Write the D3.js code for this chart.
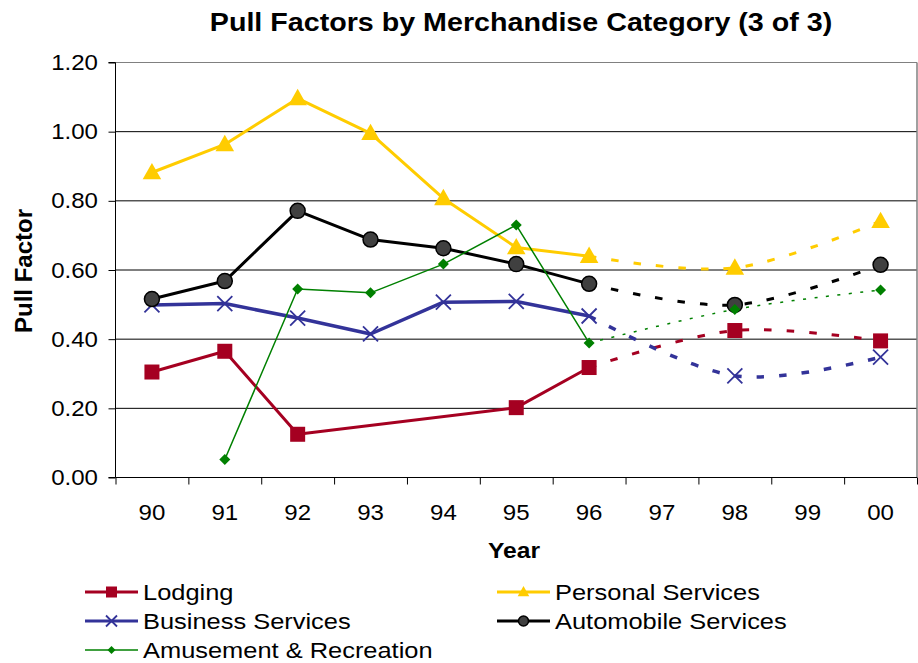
<!DOCTYPE html>
<html><head><meta charset="utf-8">
<script src="https://cdn.jsdelivr.net/npm/d3@7"></script>
<style>body{margin:0;background:#fff;}svg{display:block;font-family:"Liberation Sans",Arial,sans-serif;}</style>
</head><body><svg id="c" width="918" height="663"></svg>
<script>
const years = ["90","91","92","93","94","95","96","97","98","99","00"];
const yTicks = [0,0.2,0.4,0.6,0.8,1.0,1.2];
// actual values (solid) 90-96, projections (dashed) 96,98,00
const lodging      = [0.305,0.365,0.125,null,null,0.202,0.318,null,0.425,null,0.395];
const personal     = [0.882,0.963,1.096,0.995,0.807,0.665,0.640,null,0.606,null,0.741];
const business     = [0.499,0.503,0.461,0.415,0.507,0.509,0.467,null,0.294,null,0.348];
const automobile   = [0.516,0.568,0.771,0.688,0.663,0.617,0.560,null,0.499,null,0.615];
const amusement    = [null,0.052,0.545,0.534,0.617,0.730,0.389,null,0.486,null,0.542];
const seriesNames  = ["Lodging","Personal Services","Business Services","Automobile Services","Amusement & Recreation"];
const lastActual = 6; // index of "96"

const series = [
  {name:seriesNames[0], vals:lodging,    color:"#A50021", w:3,   marker:"square",   dash:"7.5,15"},
  {name:seriesNames[2], vals:business,   color:"#333399", w:3.5, marker:"x",        dash:"7.5,15"},
  {name:seriesNames[3], vals:automobile, color:"#000000", w:3,   marker:"circle",   dash:"7.5,15"},
  {name:seriesNames[1], vals:personal,   color:"#FFCC00", w:3,   marker:"triangle", dash:"7.5,15"},
  {name:seriesNames[4], vals:amusement,  color:"#008000", w:1.5, marker:"diamond",  dash:"3,8.5"}
];

const SX = 1.12; // horizontal text stretch
const svg = d3.select("#c");
const L=115.5, R=917, T=62.5, B=477.5;
const x = d3.scaleBand().domain(years).range([L,R]).padding(0);
const y = d3.scaleLinear().domain([0,1.2]).range([B,T]);
const cx = i => x(years[i]) + x.bandwidth()/2;

function txt(g, px, py, str, size, anchor, bold){
  return g.append("text").attr("transform",`translate(${px},${py}) scale(${SX},1)`)
    .attr("text-anchor",anchor).attr("font-size",size).attr("font-weight",bold?"bold":"normal").attr("fill","#000").text(str);
}

// gridlines
svg.append("g").selectAll("line").data(yTicks.filter(d=>d>0)).join("line")
  .attr("x1",L).attr("x2",R).attr("y1",d=>y(d)).attr("y2",d=>y(d))
  .attr("stroke",d=>d===1.2?"#808080":"#000").attr("stroke-width",1);
svg.append("line").attr("x1",R).attr("x2",R).attr("y1",T).attr("y2",B).attr("stroke","#808080").attr("stroke-width",1.5);

// axes
const yAxis = d3.axisLeft(y).tickValues(yTicks).tickFormat("").tickSize(7);
const gy = svg.append("g").attr("transform",`translate(${L},0)`).call(yAxis);
gy.selectAll("line,path").attr("stroke","#000");
gy.select(".domain").attr("d",`M-7,${B}H0V${T}H-7`);
const gyl = svg.append("g");
yTicks.forEach(t=>txt(gyl, 98, y(t)+7.5, d3.format(".2f")(t), 21.5, "end", false));

const xAxis = d3.axisBottom(d3.scaleLinear().domain([0,11]).range([L,R])).tickValues(d3.range(0,12)).tickSize(7).tickFormat("");
const gx = svg.append("g").attr("transform",`translate(0,${B})`).call(xAxis);
gx.selectAll("line,path").attr("stroke","#000");
gx.select(".domain").attr("d",`M${L},0H${R}`);
const gxl = svg.append("g");
years.forEach(d=>txt(gxl, x(d)+x.bandwidth()/2, 520, d, 21.5, "middle", false));

// titles
txt(svg, 521, 31, "Pull Factors by Merchandise Category (3 of 3)", 25.6, "middle", true);
txt(svg, 514, 558, "Year", 22, "middle", true);
svg.append("text").attr("transform","translate(32,271) rotate(-90)").attr("text-anchor","middle").attr("font-weight","bold").attr("font-size",24).text("Pull Factor");

function drawMarker(g, type, px, py, s, color){
  if(type==="square") g.append("rect").attr("x",px-s/2).attr("y",py-s/2).attr("width",s).attr("height",s).attr("fill",color);
  else if(type==="triangle") g.append("path").attr("d",`M${px},${py-s*0.6}L${px+s*0.58},${py+s*0.42}L${px-s*0.58},${py+s*0.42}Z`).attr("fill",color);
  else if(type==="circle") g.append("circle").attr("cx",px).attr("cy",py).attr("r",s/2).attr("fill","#404040").attr("stroke","#000").attr("stroke-width",1.5);
  else if(type==="diamond") g.append("path").attr("d",`M${px},${py-s/2}L${px+s/2},${py}L${px},${py+s/2}L${px-s/2},${py}Z`).attr("fill",color);
  else if(type==="x") g.append("path").attr("d",`M${px-s/2},${py-s/2}L${px+s/2},${py+s/2}M${px+s/2},${py-s/2}L${px-s/2},${py+s/2}`).attr("stroke",color).attr("stroke-width",1.8).attr("fill","none");
}
const msize = {square:15, triangle:16, circle:15, diamond:11, x:15};

const gl = svg.append("g");
series.forEach(s=>{
  const actual = s.vals.map((v,i)=>({i,v})).filter(d=>d.i<=lastActual && d.v!=null);
  const proj = s.vals.map((v,i)=>({i,v})).filter(d=>d.i>=lastActual && d.v!=null);
  gl.append("path").attr("d",d3.line().x(d=>cx(d.i)).y(d=>y(d.v))(actual))
    .attr("fill","none").attr("stroke",s.color).attr("stroke-width",s.w).attr("stroke-linejoin","round");
  gl.append("path").attr("d",d3.line().curve(d3.curveCardinal.tension(0)).x(d=>cx(d.i)).y(d=>y(d.v))(proj))
    .attr("fill","none").attr("stroke",s.color).attr("stroke-width",s.w).attr("stroke-dasharray",s.dash);
});
series.forEach(s=>{
  s.vals.forEach((v,i)=>{ if(v!=null) drawMarker(gl, s.marker, cx(i), y(v), msize[s.marker], s.color); });
});

// legend
const legendItems = [
  {s:series[0], x:85, y:592},
  {s:series[3], x:497, y:592},
  {s:series[1], x:85, y:621},
  {s:series[2], x:497, y:621},
  {s:series[4], x:85, y:650}
];
const lg = svg.append("g");
const lsize = {square:11, triangle:10, circle:10, diamond:8, x:11};
legendItems.forEach(it=>{
  const s=it.s;
  lg.append("line").attr("x1",it.x).attr("x2",it.x+53).attr("y1",it.y).attr("y2",it.y).attr("stroke",s.color).attr("stroke-width",s.marker==="diamond"?1.5:3);
  drawMarker(lg, s.marker, it.x+26.5, it.y, lsize[s.marker], s.color);
  txt(lg, it.x+58, it.y+8, s.name, 22.7, "start", false);
});
</script></body></html>
